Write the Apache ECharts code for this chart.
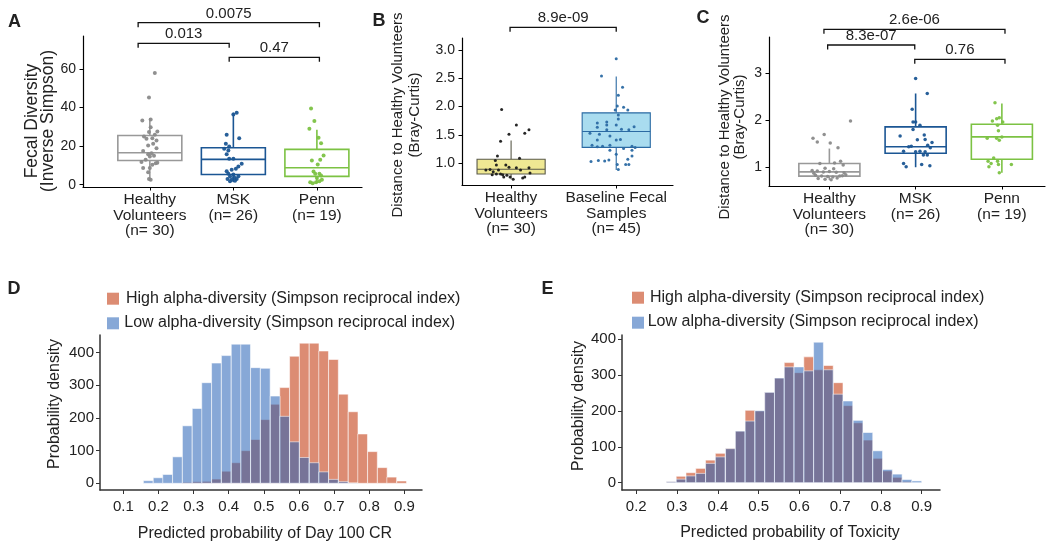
<!DOCTYPE html>
<html><head><meta charset="utf-8">
<script src="https://cdn.jsdelivr.net/npm/echarts@6/dist/echarts.min.js"></script>
<style>html,body{margin:0;padding:0;background:#fff}#c{width:1050px;height:549px}</style>
</head><body><div id="c"></div>
<script>
// ================= DATA =================
// Panel A: Fecal diversity (Inverse Simpson)
const aCategories = ['Healthy\nVolunteers\n(n= 30)', 'MSK\n(n= 26)', 'Penn\n(n= 19)'];
const aYTicks = [0, 20, 40, 60];
const aBoxStats = [ // [lower whisker, Q1, median, Q3, upper whisker]
  [2.5, 12.5, 16.5, 25.5, 34.5],
  [1.3, 5.3, 13.1, 19.1, 37.3],
  [0.8, 4.3, 8.8, 18.3, 28.5]
];
const aHealthyPts = [[1.06,57.9],[0.99,45.1],[0.91,33.2],[1.01,33.7],[0.99,27.3],[1.09,27.6],[0.93,25.0],[1.03,24.1],[0.96,23.8],[1.08,22.9],[0.98,20.3],[1.08,18.9],[0.92,17.4],[1.02,16.3],[0.98,15.7],[1.05,15.0],[1.0,14.6],[0.90,11.7],[1.07,11.1],[0.92,8.7],[1.0,8.7],[1.03,10.3],[0.98,6.5],[0.99,3.0],[1.01,2.5],[1.09,11.3],[0.95,12.9],[1.06,25.9],[1.01,29.8],[1.04,21.2]];
const aMskPts = [[2.04,37.3],[2.0,36.4],[1.92,25.9],[2.07,24.1],[1.91,21.2],[1.95,19.8],[1.89,18.6],[1.94,17.7],[1.92,15.7],[1.95,13.4],[2.0,13.4],[2.10,10.8],[2.06,9.4],[2.03,8.2],[1.98,7.7],[1.92,7.0],[1.94,5.6],[2.0,5.3],[1.96,4.2],[2.01,3.9],[1.93,3.0],[1.98,2.5],[2.04,3.0],[1.96,1.8],[2.02,2.1],[2.06,4.4]];
const aPennPts = [[2.93,39.4],[2.97,33.0],[2.91,29.0],[3.05,21.5],[3.02,24.3],[3.04,12.9],[3.08,15.1],[2.94,12.5],[3.01,10.5],[2.96,6.8],[3.03,5.6],[3.05,4.7],[3.0,3.5],[3.06,2.5],[2.92,1.3],[2.95,0.8],[2.99,1.3],[3.03,1.8],[2.98,5.6]];
const aPairs = [[1, 2], [2, 3], [1, 3]];
const aPValues = ['0.013', '0.47', '0.0075'];

// Panel B: distance to healthy volunteers
const bCategories = ['Healthy\nVolunteers\n(n= 30)', 'Baseline Fecal\nSamples\n(n= 45)'];
const bYTicks = [1.0, 1.5, 2.0, 2.5, 3.0];
const bBoxStats = [
  [0.72, 0.81, 0.895, 1.07, 1.40],
  [0.88, 1.28, 1.56, 1.89, 2.53]
];
const bHealthyPts = [[0.91,1.95],[1.05,1.675],[0.98,1.51],[1.17,1.59],[1.13,1.53],[0.90,1.39],[0.87,1.13],[1.08,1.09],[0.85,1.05],[0.86,0.97],[0.95,0.97],[0.98,0.93],[1.05,0.92],[1.17,0.92],[0.80,0.89],[0.83,0.85],[0.86,0.81],[0.90,0.81],[0.92,0.80],[0.96,0.79],[0.99,0.76],[1.02,0.72],[1.11,0.74],[1.13,0.76],[1.18,0.83],[0.76,0.88],[0.88,0.88],[1.09,0.88],[0.82,0.80],[0.93,0.76]];
const bBaselinePts = [[2.0,2.845],[1.86,2.54],[2.06,2.34],[2.02,2.20],[2.07,1.99],[2.01,2.01],[1.99,1.94],[2.11,1.94],[2.02,1.85],[2.02,1.78],[1.82,1.71],[1.91,1.675],[2.0,1.675],[2.17,1.645],[1.82,1.635],[2.12,1.59],[1.91,1.59],[1.75,1.53],[1.84,1.51],[1.94,1.48],[2.04,1.42],[2.0,1.41],[1.82,1.41],[1.77,1.32],[1.94,1.32],[1.87,1.30],[1.82,1.29],[2.15,1.30],[2.18,1.28],[2.07,1.26],[1.94,1.23],[2.0,1.16],[2.15,1.13],[1.93,1.06],[1.83,1.05],[1.89,1.04],[1.76,1.03],[2.11,1.07],[2.01,0.98],[2.09,0.98],[2.12,0.98],[2.02,0.89],[2.15,1.23],[1.91,1.73],[2.05,1.60]];
const bPairs = [[1, 2]];
const bPValues = ['8.9e-09'];

// Panel C: distance to healthy volunteers by centre
const cCategories = ['Healthy\nVolunteers\n(n= 30)', 'MSK\n(n= 26)', 'Penn\n(n= 19)'];
const cYTicks = [1, 2, 3];
const cBoxStats = [
  [0.72, 0.80, 0.89, 1.07, 1.39],
  [0.99, 1.29, 1.43, 1.855, 2.57],
  [0.87, 1.16, 1.64, 1.91, 2.355]
];
const cHealthyPts = [[1.245,1.98],[0.94,1.69],[0.81,1.61],[0.86,1.53],[1.01,1.51],[1.10,1.41],[0.89,1.07],[1.13,1.12],[1.16,1.04],[0.95,0.97],[1.05,0.96],[0.80,0.92],[0.86,0.91],[0.93,0.89],[1.00,0.90],[1.08,0.88],[1.17,0.87],[0.84,0.82],[0.91,0.80],[0.98,0.79],[1.04,0.78],[1.12,0.80],[1.19,0.83],[0.87,0.75],[0.95,0.73],[1.02,0.72],[1.09,0.76],[1.15,0.81],[0.82,0.86],[1.06,1.08]];
const cMskPts = [[2.0,2.89],[2.135,2.57],[1.96,2.23],[1.97,1.96],[2.0,1.96],[2.05,1.89],[1.82,1.66],[2.10,1.68],[2.11,1.585],[2.19,1.52],[2.14,1.46],[2.17,1.41],[1.95,1.44],[1.86,1.335],[2.05,1.335],[2.11,1.32],[2.135,1.25],[1.86,1.07],[1.89,1.0],[2.07,1.05],[2.165,1.02],[2.0,1.32],[1.92,1.43],[2.02,1.58],[1.97,1.8],[2.09,1.25]];
const cPennPts = [[2.92,2.37],[2.94,2.03],[2.97,2.05],[2.89,1.98],[3.01,1.96],[2.95,1.89],[2.96,1.77],[2.83,1.61],[2.94,1.61],[3.0,1.64],[2.97,1.57],[2.905,1.19],[2.84,1.12],[2.95,1.12],[2.85,1.0],[3.11,1.05],[2.96,1.05],[2.97,0.87],[2.875,1.07]];
const cPairs = [[1, 2], [2, 3], [1, 3]];
const cPValues = ['8.3e-07', '0.76', '2.6e-06'];

// Panel D: predicted probability of Day 100 CR (histograms)
const dBinCenters = [0.171,0.199,0.226,0.254,0.282,0.310,0.337,0.365,0.393,0.421,0.448,0.476,0.504,0.532,0.559,0.587,0.615,0.643,0.670,0.698,0.726,0.754,0.781,0.809,0.837,0.864,0.892];
const dBinWidth = 0.0277;
const dHigh = [0,0,0,0,3,5,6,13,37,63,100,134,195,242,293,389,429,429,405,379,273,219,151,97,48,19,7];
const dLow  = [8,17,27,81,176,229,308,368,391,426,426,354,352,267,205,127,79,63,35,12,5,1,0,0,0,0,0];
const dXTicks = [0.1,0.2,0.3,0.4,0.5,0.6,0.7,0.8,0.9];
const dYTicks = [0,100,200,300,400];

// Panel E: predicted probability of Toxicity (histograms)
const eBinCenters = [0.286,0.310,0.334,0.358,0.382,0.406,0.431,0.455,0.479,0.503,0.527,0.551,0.575,0.599,0.623,0.647,0.671,0.695,0.719,0.744,0.768,0.792,0.816,0.840,0.864,0.888];
const eBinWidth = 0.0241;
const eHigh = [3,18,28,40,63,82,96,144,202,200,252,292,335,307,351,315,327,279,215,167,119,68,33,15,3,0];
const eLow  = [3,10,19,26,54,72,95,144,172,201,252,292,323,323,312,392,315,247,228,174,140,89,37,24,9,5];
const eXTicks = [0.2,0.3,0.4,0.5,0.6,0.7,0.8,0.9];
const eYTicks = [0,100,200,300,400];

const legendLabels = ['High alpha-diversity (Simpson reciprocal index)', 'Low alpha-diversity (Simpson reciprocal index)'];

// ================= STYLE / LAYOUT =================
const FONT = '"Liberation Sans", Arial, Helvetica, sans-serif';
const TXT = '#222';
const GRAY = '#999999', GRAYPT = '#8a8a8a', MSKC = '#1b5694', PENNC = '#7cc243';
const HIGHC = 'rgb(191,46,0)', LOWC = 'rgb(37,97,182)', HISTOP = 0.55;

const grids = [
  {left: 83, top: 36, width: 279, height: 151},
  {left: 462, top: 38, width: 211, height: 147},
  {left: 769, top: 37, width: 276, height: 149},
  {left: 100, top: 335, width: 322, height: 155},
  {left: 622, top: 335, width: 318, height: 155}
].map(g => Object.assign({containLabel: false, outerBoundsMode: 'none'}, g));

function xCat(gi, min, max, cats) {
  const vals = cats.map((c, i) => i + 1);
  return {gridIndex: gi, type: 'value', min, max, splitLine: {show: false},
    axisLine: {show: true, onZero: false, lineStyle: {color: '#000', width: 1.2}},
    axisTick: {show: true, customValues: vals, length: 3.5, lineStyle: {color: '#000', width: 1}},
    axisLabel: {customValues: vals, formatter: v => cats[Math.round(v) - 1], margin: 5,
      fontSize: 15.5, lineHeight: 15.5, color: TXT, fontFamily: FONT}};
}
function yVal(gi, min, max, ticks, fmt, opts) {
  opts = opts || {};
  return {gridIndex: gi, type: 'value', min, max, splitLine: {show: false},
    axisLine: {show: true, onZero: false, lineStyle: {color: opts.lc || '#000', width: opts.lw || 1.2}},
    axisTick: {show: true, customValues: ticks, length: opts.tl || 3.5, lineStyle: {color: opts.lc || '#000'}},
    axisLabel: {customValues: ticks, formatter: fmt, margin: opts.m || 7, fontSize: opts.fs || 14, color: TXT, fontFamily: FONT}};
}
function xVal(gi, min, max, ticks) {
  return {gridIndex: gi, type: 'value', min, max, splitLine: {show: false},
    axisLine: {show: true, onZero: false, lineStyle: {color: '#333', width: 1.5}},
    axisTick: {show: true, customValues: ticks, length: 4, lineStyle: {color: '#333'}},
    axisLabel: {customValues: ticks, formatter: v => v.toFixed(1), margin: 9, fontSize: 15, color: TXT, fontFamily: FONT}};
}

function boxSeries(gi, stats, styles, halfW) {
  return {type: 'custom', xAxisIndex: gi, yAxisIndex: gi, clip: false, z: 2,
    data: stats.map((s, i) => [i + 1].concat(s)),
    renderItem(params, api) {
      const st = styles[params.dataIndex];
      const x = api.value(0);
      const v = [1, 2, 3, 4, 5].map(k => api.value(k));
      const tl = api.coord([x - halfW, v[3]]);
      const br = api.coord([x + halfW, v[1]]);
      const cx = api.coord([x, v[2]])[0];
      const my = api.coord([x, v[2]])[1];
      const yMax = api.coord([x, v[4]])[1];
      const yMin = api.coord([x, v[0]])[1];
      const ls = {stroke: st.stroke, lineWidth: st.lw};
      return {type: 'group', children: [
        {type: 'line', shape: {x1: cx, y1: yMax, x2: cx, y2: tl[1]}, style: ls},
        {type: 'line', shape: {x1: cx, y1: br[1], x2: cx, y2: yMin}, style: ls},
        {type: 'rect', shape: {x: tl[0], y: tl[1], width: br[0] - tl[0], height: br[1] - tl[1]},
          style: {fill: st.fill, stroke: st.stroke, lineWidth: st.lw}},
        {type: 'line', shape: {x1: tl[0], y1: my, x2: br[0], y2: my}, style: ls}
      ]};
    }};
}
function ptsSeries(gi, pts, color, size) {
  return {type: 'scatter', xAxisIndex: gi, yAxisIndex: gi, data: pts, symbolSize: size, z: 3,
    itemStyle: {color: color, opacity: 0.95}, silent: true};
}
function bracketSeries(gi, pairs, labels, levels, nudges) {
  return {type: 'custom', xAxisIndex: gi, yAxisIndex: gi, clip: false, z: 4,
    data: pairs.map((p, i) => [p[0], p[1], i]),
    renderItem(params, api) {
      const i = params.dataIndex;
      const x1 = api.coord([api.value(0) + nudges[i][0], 1])[0];
      const x2 = api.coord([api.value(1) + nudges[i][1], 1])[0];
      const y = levels[i], tip = y + 4.5;
      return {type: 'group', children: [
        {type: 'polyline', shape: {points: [[x1, tip], [x1, y], [x2, y], [x2, tip]]},
          style: {stroke: '#111', lineWidth: 1.3, fill: null}},
        {type: 'text', x: (x1 + x2) / 2, y: y - 9,
          style: {text: labels[i], fill: TXT, font: '15px ' + FONT, textAlign: 'center', textVerticalAlign: 'middle'}}
      ]};
    }};
}
function histSeries(gi, centers, heights, width, color) {
  return {type: 'custom', xAxisIndex: gi, yAxisIndex: gi, clip: false, z: 2,
    data: centers.map((c, i) => [c, heights[i]]),
    renderItem(params, api) {
      const c = api.value(0), h = api.value(1);
      if (!(h > 0)) return null;
      const p1 = api.coord([c - width / 2, h]);
      const p2 = api.coord([c + width / 2, 0]);
      return {type: 'rect', shape: {x: p1[0], y: p1[1], width: p2[0] - p1[0], height: p2[1] - p1[1]},
        style: {fill: color, stroke: '#ffffff', lineWidth: 1, opacity: HISTOP}};
    }};
}

function gtext(x, y, text, o) {
  o = o || {};
  return {type: 'text', x, y, rotation: o.rot || 0, silent: true,
    style: {text, fill: TXT, font: (o.bold ? 'bold ' : '') + (o.fs || 15) + 'px ' + FONT,
      textAlign: o.align || 'center', textVerticalAlign: 'middle', lineHeight: o.lh || 16}};
}
function grect(x, y, color) {
  return {type: 'rect', silent: true, shape: {x, y, width: 12, height: 12}, style: {fill: color, opacity: HISTOP}};
}

const option = {
  animation: false,
  backgroundColor: '#ffffff',
  grid: grids,
  xAxis: [
    xCat(0, 0.2, 3.54, aCategories),
    xCat(1, 0.533, 2.54, bCategories),
    xCat(2, 0.30, 3.50, cCategories),
    xVal(3, 0.0336, 0.95, dXTicks),
    xVal(4, 0.165, 0.945, eXTicks)
  ],
  yAxis: [
    yVal(0, -1.2, 77, aYTicks, v => String(v)),
    yVal(1, 0.617, 3.21, bYTicks, v => v.toFixed(1)),
    yVal(2, 0.588, 3.78, cYTicks, v => String(v)),
    yVal(3, -20.5, 454, dYTicks, v => String(v), {lc: '#333', lw: 1.5, tl: 4, m: 6, fs: 15}),
    yVal(4, -20.3, 412, eYTicks, v => String(v), {lc: '#333', lw: 1.5, tl: 4, m: 6, fs: 15})
  ],
  series: [
    boxSeries(0, aBoxStats, [
      {stroke: GRAY, fill: '#fff', lw: 1.6}, {stroke: MSKC, fill: '#fff', lw: 1.6}, {stroke: PENNC, fill: '#fff', lw: 1.6}], 0.383),
    ptsSeries(0, aHealthyPts, GRAYPT, 4),
    ptsSeries(0, aMskPts, MSKC, 4),
    ptsSeries(0, aPennPts, PENNC, 4),
    bracketSeries(0, aPairs, aPValues, [43.3, 57.3, 22.7], [[-0.14, -0.05], [-0.05, 0.03], [-0.14, 0.03]]),

    boxSeries(1, bBoxStats, [
      {stroke: '#5a5a4a', fill: '#efe893', lw: 1.1}, {stroke: '#2b6aa3', fill: '#a9dcef', lw: 1.1}], 0.324),
    ptsSeries(1, bHealthyPts, '#1a1a1a', 3),
    ptsSeries(1, bBaselinePts, '#2b6aa3', 3),
    bracketSeries(1, bPairs, bPValues, [27.3], [[-0.01, 0]]),

    boxSeries(2, cBoxStats, [
      {stroke: GRAY, fill: '#fff', lw: 1.6}, {stroke: MSKC, fill: '#fff', lw: 1.6}, {stroke: PENNC, fill: '#fff', lw: 1.6}], 0.354),
    ptsSeries(2, cHealthyPts, GRAYPT, 3.5),
    ptsSeries(2, cMskPts, MSKC, 3.5),
    ptsSeries(2, cPennPts, PENNC, 3.5),
    bracketSeries(2, cPairs, cPValues, [45, 59.3, 29.3], [[-0.02, -0.01], [-0.01, 0.036], [-0.063, 0.036]]),

    histSeries(3, dBinCenters, dHigh, dBinWidth, HIGHC),
    histSeries(3, dBinCenters, dLow, dBinWidth, LOWC),
    histSeries(4, eBinCenters, eHigh, eBinWidth, HIGHC),
    histSeries(4, eBinCenters, eLow, eBinWidth, LOWC)
  ],
  graphic: [
    gtext(14.5, 21.7, 'A', {bold: true, fs: 18}),
    gtext(379, 21, 'B', {bold: true, fs: 18}),
    gtext(703, 18.5, 'C', {bold: true, fs: 18}),
    gtext(14, 289, 'D', {bold: true, fs: 18}),
    gtext(547.5, 289, 'E', {bold: true, fs: 18}),
    gtext(40, 121, 'Fecal Diversity\n(Inverse Simpson)', {rot: Math.PI / 2, lh: 16, fs: 17.5}),
    gtext(406, 115, 'Distance to Healthy Volunteers\n(Bray-Curtis)', {rot: Math.PI / 2, lh: 17}),
    gtext(732.5, 117, 'Distance to Healthy Volunteers\n(Bray-Curtis)', {rot: Math.PI / 2, lh: 15}),
    gtext(55, 404, 'Probability density', {rot: Math.PI / 2, fs: 16}),
    gtext(578.3, 406, 'Probability density', {rot: Math.PI / 2, fs: 16}),
    gtext(265, 533.5, 'Predicted probability of Day 100 CR', {fs: 16}),
    gtext(790, 533, 'Predicted probability of Toxicity', {fs: 16}),
    grect(107, 292.7, HIGHC), gtext(126, 298.5, legendLabels[0], {align: 'left', fs: 16}),
    grect(107, 317.3, LOWC), gtext(124.3, 322.5, legendLabels[1], {align: 'left', fs: 16}),
    grect(632, 291.7, HIGHC), gtext(650, 298, legendLabels[0], {align: 'left', fs: 16}),
    grect(632, 316.7, LOWC), gtext(647.7, 322, legendLabels[1], {align: 'left', fs: 16})
  ]
};
const chart = echarts.init(document.getElementById('c'), null, {renderer: 'canvas'});
chart.setOption(option);
</script></body></html>
